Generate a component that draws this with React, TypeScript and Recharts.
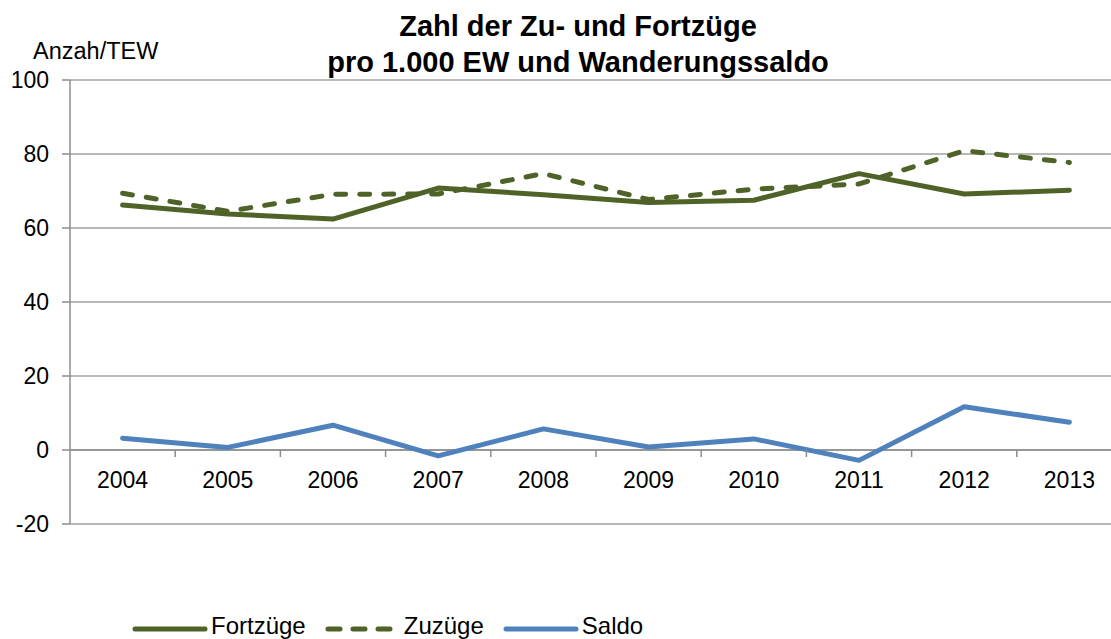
import React from 'react';
import { LineChart, Line, XAxis, YAxis, CartesianGrid, ReferenceLine } from 'recharts';

const years = ['2004', '2005', '2006', '2007', '2008', '2009', '2010', '2011', '2012', '2013'];
const fortzuege = [66.2, 63.8, 62.4, 70.8, 69.0, 66.9, 67.5, 74.7, 69.2, 70.2];
const zuzuege = [69.4, 64.5, 69.1, 69.2, 74.7, 67.7, 70.5, 71.9, 80.9, 77.7];
const saldo = [3.2, 0.7, 6.7, -1.6, 5.7, 0.8, 3.0, -2.8, 11.7, 7.5];
const yTicks = [-20, 0, 20, 40, 60, 80, 100];

const titleLines = ['Zahl der Zu- und Fortzüge', 'pro 1.000 EW und Wanderungssaldo'];
const unitLabel = 'Anzah/TEW';

const GREEN = '#4F6228';
const BLUE = '#4F81BD';
const FONT = '"Liberation Sans", Arial, sans-serif';

const series = [
  { key: 'fort', name: 'Fortzüge', color: GREEN, dash: undefined as string | undefined },
  { key: 'zu', name: 'Zuzüge', color: GREEN, dash: '10 14' },
  { key: 'saldo', name: 'Saldo', color: BLUE, dash: undefined as string | undefined },
];

const data = years.map((y, i) => ({ year: y, fort: fortzuege[i], zu: zuzuege[i], saldo: saldo[i] }));

// distance (px) between bottom of plot (-20) and the zero line
const ZERO_SHIFT = 74;

const YearTick = (props: any) => {
  const { x, y, payload } = props;
  const y0 = y - ZERO_SHIFT;
  const off = payload && typeof payload.offset === 'number' && payload.offset > 0 ? payload.offset : 52.6;
  return (
    <g>
      {payload.index > 0 && (
        <line x1={x - off} x2={x - off} y1={y0} y2={y0 + 7} stroke="#8c8c8c" strokeWidth={1.5} />
      )}
      <text x={x} y={y0 + 38} textAnchor="middle" fontFamily={FONT} fontSize={23} fill="#000">
        {payload.value}
      </text>
    </g>
  );
};

export default function App() {
  return (
    <div style={{ position: 'absolute', left: 0, top: 0, width: 1111, height: 639, overflow: 'hidden', background: '#fff' }}>
      <div
        style={{
          position: 'absolute', left: 278, top: 8, width: 600, textAlign: 'center',
          fontFamily: FONT, fontWeight: 'bold', fontSize: 29, lineHeight: '36px', color: '#000',
        }}
      >
        {titleLines.map((t) => (
          <div key={t}>{t}</div>
        ))}
      </div>
      <div style={{ position: 'absolute', left: 33, top: 40, fontFamily: FONT, fontSize: 23.5, lineHeight: '22px', color: '#000' }}>
        {unitLabel}
      </div>
      <LineChart width={1125} height={639} data={data} margin={{ top: 80, right: 3, bottom: 114, left: 0 }}>
        <CartesianGrid vertical={false} stroke="#a0a0a0" strokeWidth={1.5} />
        <XAxis
          dataKey="year"
          scale="band"
          height={1}
          axisLine={false}
          tickLine={false}
          tickSize={0}
          tickMargin={0}
          interval={0}
          tick={(p: any) => <YearTick {...p} />}
        />
        <YAxis
          width={70}
          domain={[-20, 100]}
          ticks={yTicks}
          interval={0}
          axisLine={{ stroke: '#8c8c8c', strokeWidth: 1.5 }}
          tickLine={{ stroke: '#8c8c8c', strokeWidth: 1.5 }}
          tickSize={8}
          tickMargin={13}
          tick={{ fontFamily: FONT, fontSize: 23, fill: '#000' }}
        />
        <ReferenceLine y={0} stroke="#8c8c8c" strokeWidth={1.5} />
        {series.map((s) => (
          <Line
            key={s.key}
            dataKey={s.key}
            name={s.name}
            stroke={s.color}
            strokeWidth={5}
            strokeDasharray={s.dash}
            strokeLinecap="round"
            strokeLinejoin="round"
            dot={false}
            activeDot={false}
            type="linear"
            isAnimationActive={false}
          />
        ))}
      </LineChart>
      <div
        style={{
          position: 'absolute', left: 131, top: 614, display: 'flex', alignItems: 'center',
          fontFamily: FONT, fontSize: 24, lineHeight: '24px', color: '#000',
        }}
      >
        {series.map((s) => (
          <div key={s.key} style={{ display: 'flex', alignItems: 'center', marginRight: 18 }}>
            <svg width={78} height={12} style={{ marginTop: 6 }}>
              <line x1={4} x2={74} y1={6} y2={6} stroke={s.color} strokeWidth={5} strokeLinecap="round" strokeDasharray={s.dash ? '12 13' : undefined} />
            </svg>
            <span style={{ marginLeft: 2 }}>{s.name}</span>
          </div>
        ))}
      </div>
    </div>
  );
}
